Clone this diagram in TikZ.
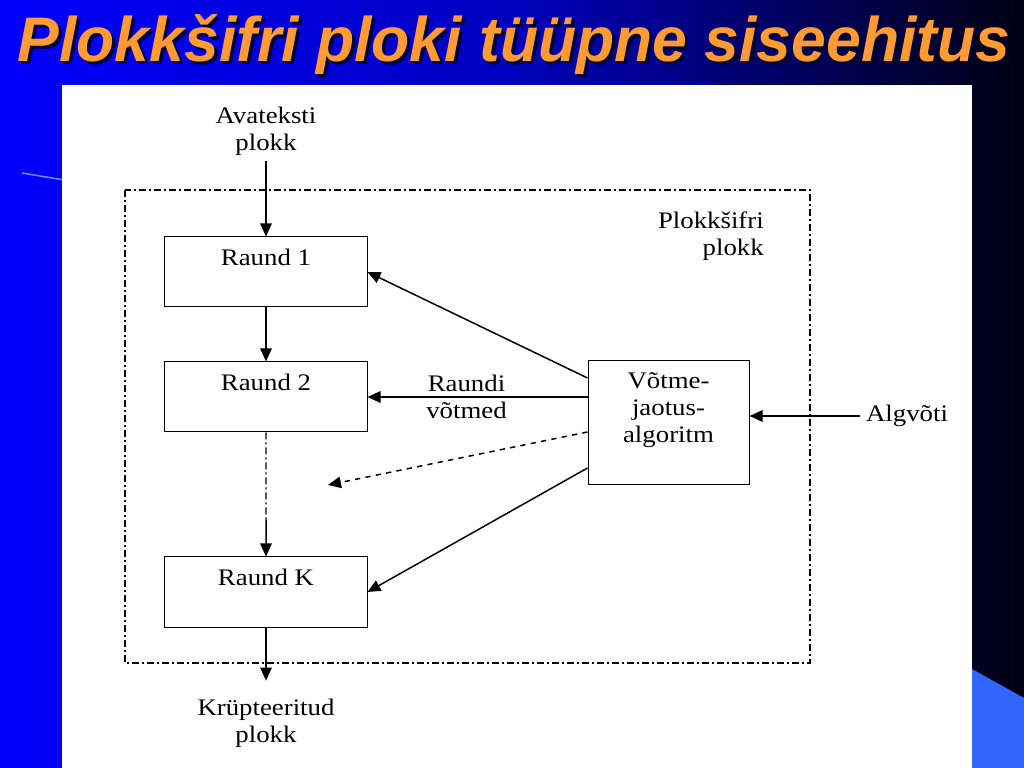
\documentclass[tikz,border=0pt]{standalone}
\usepackage{fontspec}
\setmainfont{Liberation Serif}[FakeStretch=1.13]
\newfontfamily\titlefont{Liberation Sans}
\usetikzlibrary{arrows.meta,positioning,calc}
\definecolor{slideblue}{RGB}{0,0,255}
\definecolor{slidemid}{RGB}{0,0,190}
\definecolor{slidenavy}{RGB}{0,0,18}
\definecolor{titleorange}{RGB}{255,155,50}
\definecolor{titleshade}{RGB}{0,0,45}
\definecolor{accentblue}{RGB}{51,102,255}
\definecolor{streakblue}{RGB}{110,140,255}

\begin{document}
\begin{tikzpicture}[
  x=0.2mm, y=-0.2mm,
  node distance=10.8mm,
  txt/.style={font=\fontsize{13.5}{15.2}\selectfont, align=center},
  rnd/.style={draw=black, line width=0.2mm, minimum width=40.4mm, inner ysep=0pt,
    text height=5.7mm, text depth=8.3mm, font=\fontsize{13.5}{15.2}\selectfont},
  keybox/.style={draw=black, line width=0.2mm, minimum width=32.2mm, minimum height=24.8mm,
    inner sep=0pt, font=\fontsize{13.5}{15.2}\selectfont},
  arr/.style={line width=0.3mm, -{Triangle[length=2.6mm, width=2.3mm]}},
  dashdot/.style={line width=0.25mm, dash pattern=on 1.4mm off 0.6mm on 0.4mm off 0.6mm},
  title/.style={font=\titlefont\bfseries\itshape, anchor=base, inner sep=0pt}
]

% slide
\fill[left color=slideblue, right color=slidenavy, middle color=slidemid] (0,0) rectangle (1024,768);
\draw[streakblue, line width=0.3mm] (22,173) -- (64,180);
\fill[accentblue] (972,669) -- (1024,698) -- (1024,768) -- (972,768) -- cycle;
\fill[white] (62,85) rectangle (972,768);

\node[title, text=titleshade] (titleshadow) at (517,65)
  {\resizebox{198.4mm}{9.4mm}{Plokkšifri ploki tüüpne siseehitus}};
\node[title, text=titleorange] (title) at (514,62)
  {\resizebox{198.4mm}{9.4mm}{Plokkšifri ploki tüüpne siseehitus}};

% block cipher
\draw[dashdot] (125,190) rectangle (810,663);
\node[txt, anchor=east, align=right] (blocklbl) at (770,236.5) {Plokkšifri\\plokk};

\node[rnd] (r1) at (266,272) {Raund 1};
\node[rnd, below=of r1] (r2) {Raund 2};
\node[rnd, below=24.8mm of r2] (rk) {Raund K};
\node[keybox] (key) at (668.5,423)
  {\parbox[c][20mm][t]{30mm}{\centering Võtme-\\jaotus-\\algoritm}};

\node[txt] (plain) at (266,131) {Avateksti\\plokk};
\node[txt] (cipher) at (266,723) {Krüpteeritud\\plokk};
\node[txt] (master) at (907,416) {Algvõti};

\coordinate (gap) at ($(r2.south)!0.7!(rk.north)$);
\coordinate (more) at (328,485);

\draw[arr] (plain) -- (r1);
\draw[arr] (r1) -- (r2);
\draw[dashdot] (r2) -- (gap);
\draw[arr] (gap) -- (rk);
\draw[arr, shorten >=2.4mm] (rk) -- (cipher);

\draw[arr] ([yshift=9mm]key.west) -- (r1.east);
\draw[arr] (key.west |- r2.east) -- node[txt, pos=0.55] {Raundi\\võtmed} (r2.east);
\draw[arr, dashed] ([yshift=-1.8mm]key.west) -- (more);
\draw[arr] ([yshift=-9mm]key.west) -- (rk.east);
\draw[arr] (master) -- (master -| key.east);
\end{tikzpicture}
\end{document}
